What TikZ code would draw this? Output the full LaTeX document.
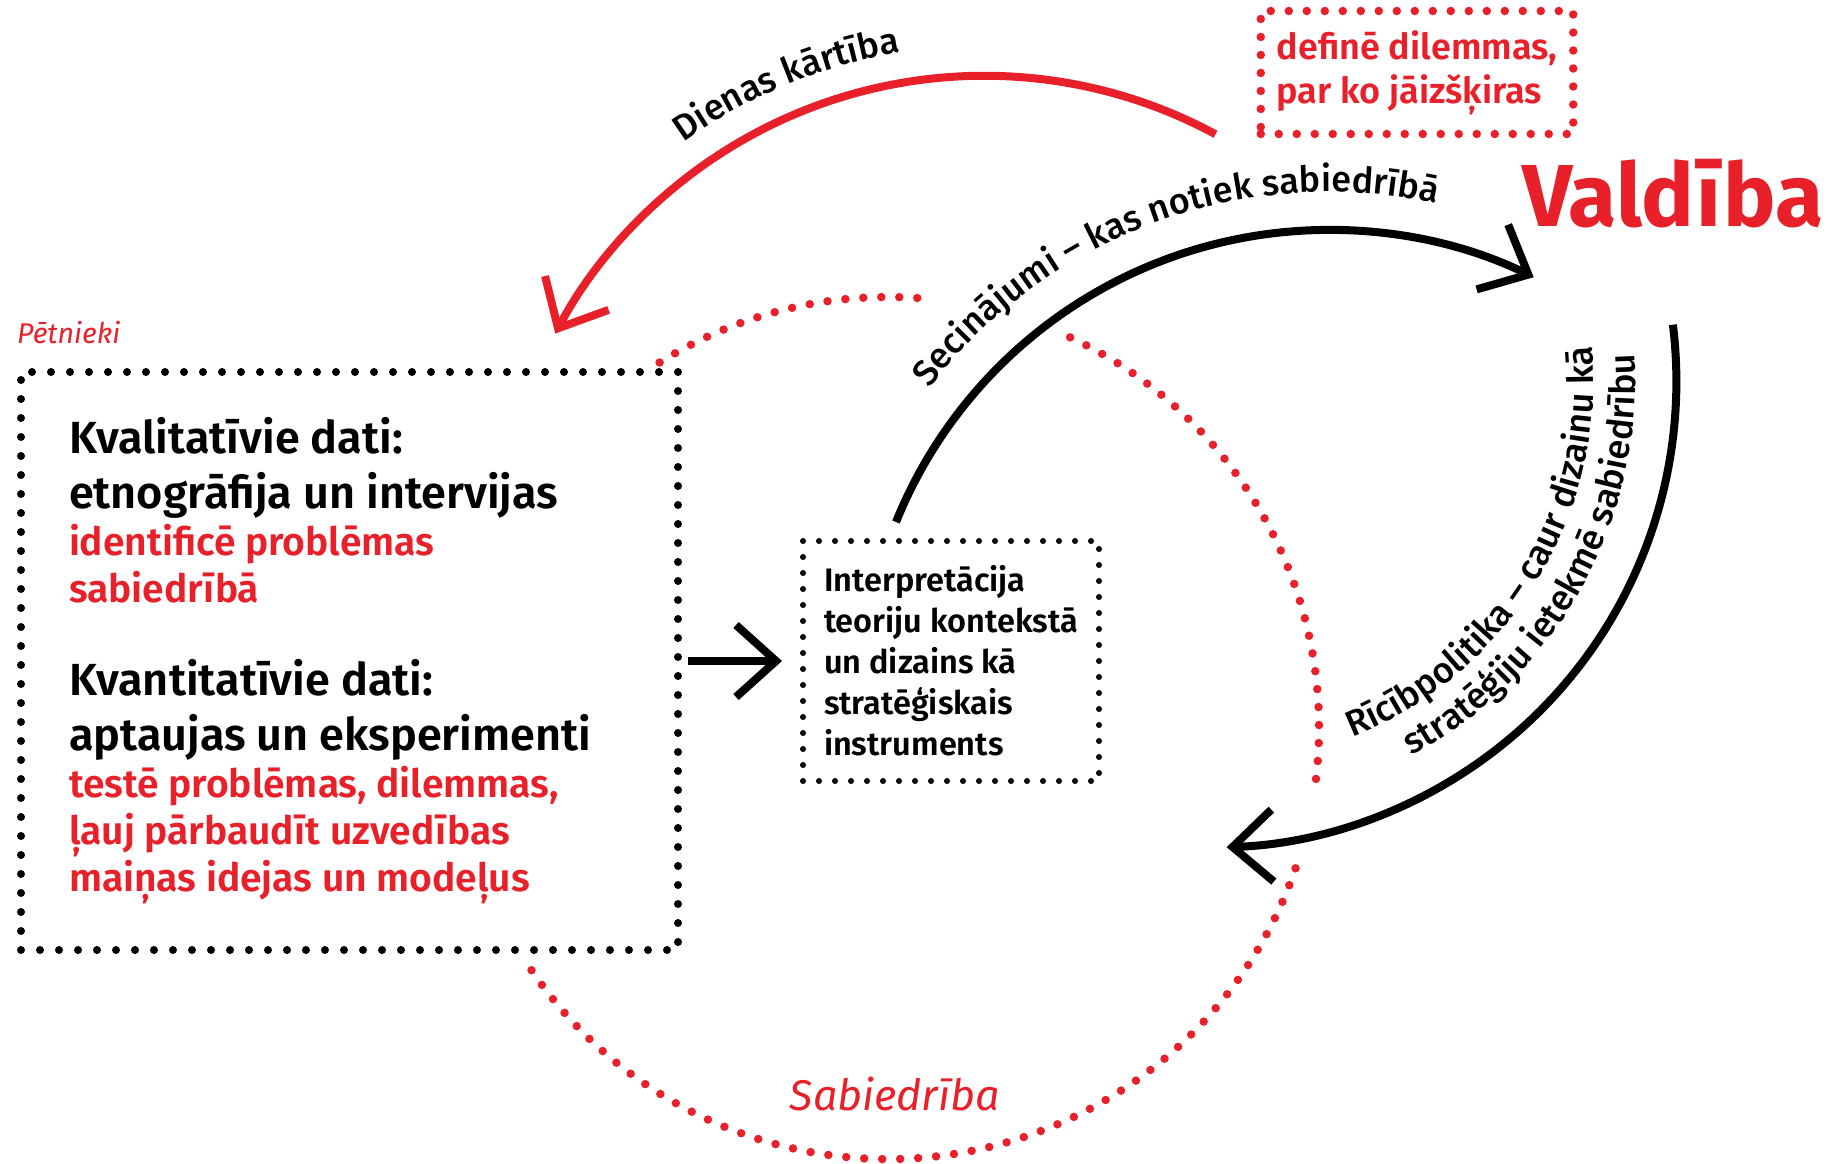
\documentclass[tikz,border=0pt]{standalone}
\usepackage{fontspec}
\setmainfont{Fira Sans}[UprightFont={* Medium}, BoldFont={* SemiBold}, ItalicFont={* Italic}]
\newfontfamily\heavyfont{Fira Sans}
\usepackage{tikz}
\usetikzlibrary{arrows.meta, positioning, calc, decorations.text}

\definecolor{valred}{HTML}{E8202A}

\newcommand{\headsize}{\fontsize{45}{55}\selectfont}
\newcommand{\notesize}{\fontsize{39}{47}\selectfont}
\newcommand{\boxsize}{\fontsize{32.5}{41}\selectfont}
\newcommand{\arcsize}{\fontsize{36}{42}\selectfont}

\begin{document}
\begin{tikzpicture}[x=1pt, y=1pt,
    dotbox/.style={draw, line width=8pt, line cap=round, dash pattern=on 0pt off 19pt},
    smalldots/.style={draw, line width=6pt, line cap=round, dash pattern=on 0pt off 16pt},
    reddots/.style={draw=valred, line width=8.5pt, line cap=round, dash pattern=on 0pt off 18pt},
    arrow/.style={-{Straight Barb[length=40pt, width=72pt]}, line width=8pt},
    arclabel/.style={decorate, decoration={text along path, text align=center, text={#1}}}
]
\useasboundingbox (0,0) rectangle (1834,1163);

% Researchers side
\node[dotbox, minimum width=657pt, minimum height=578pt, text width=561pt,
      inner xsep=48pt, inner ysep=0pt, align=flush left] (dati) at (349.5,502) {%
\spaceskip=0pt \xspaceskip=0pt
{\headsize\bfseries Kvalitatīvie dati:\\etnogrāfija un intervijas\par}
{\notesize\bfseries\color{valred}identificē problēmas\\sabiedrībā\par}
\vspace{38pt}
{\headsize\bfseries Kvantitatīvie dati:\\aptaujas un eksperimenti\par}
{\notesize\bfseries\color{valred}testē problēmas, dilemmas,\\ļauj pārbaudīt uzvedības\\maiņas idejas un modeļus\par}
};

\node[smalldots, right=118pt of dati, minimum width=296pt, minimum height=240pt,
      align=left, font=\boxsize\bfseries] (interp) {%
Interpretācija\\teoriju kontekstā\\un dizains kā\\stratēģiskais\\instruments
};

% Government side
\node[reddots, text=valred, font=\bfseries\fontsize{36}{44}\selectfont, align=left,
      minimum width=308pt, minimum height=123pt, inner xsep=16pt] (dilem) at (1417,1090.5) {%
definē dilemmas,\\par ko jāizšķiras
};

\node[text=valred, font=\heavyfont\bfseries\fontsize{88}{88}\selectfont, anchor=base west,
      inner sep=0pt] (valdiba) at (1522,936) {Valdība};

% Labels
\node[above right=24pt and 0pt of dati.north west, inner sep=0pt, text=valred,
      font=\itshape\fontsize{28.5}{28.5}\selectfont] (petnieki) {Pētnieki};

\coordinate (soc) at (888,435);
\node[anchor=base, inner sep=0pt, text=valred, font=\itshape\fontsize{43}{43}\selectfont]
      (soc-label) at ([xshift=7pt, yshift=-382pt]soc) {Sabiedrība};

% Society circle
\foreach \a/\b in {122/85.5, 65/-9, -19/-147}
  \draw[reddots] ([shift={(\a:431)}]soc) arc[start angle=\a, end angle=\b, radius=431];

% Arrows
\draw[arrow, shorten <=6pt, shorten >=18pt] (dati) -- (interp);

\coordinate (sec-from) at ([xshift=-55pt, yshift=16pt]interp.north);
\coordinate (sec-c) at ([shift={(-22:467)}]sec-from);
\draw[arrow] (sec-from) arc[start angle=158, end angle=64, radius=467];
\path[arclabel={|\arcsize|Secinājumi – kas notiek sabiedrībā}]
  ([shift={(150:505)}]sec-c) arc[start angle=150, end angle=70, radius=505];

\coordinate (pol-from) at ([yshift=-96pt]valdiba.south);
\coordinate (pol-c) at ([shift={(187:466)}]pol-from);
\draw[arrow] (pol-from) arc[start angle=7, end angle=-88, radius=466];
\path[arclabel={|\arcsize|Rīcībpolitika – caur dizainu kā}]
  ([shift={(-71.5:383)}]pol-c) arc[start angle=-71.5, end angle=8.5, radius=383];
\path[arclabel={|\arcsize|stratēģiju ietekmē sabiedrību}]
  ([shift={(-69:425)}]pol-c) arc[start angle=-69, end angle=11, radius=425];

\coordinate (agenda-from) at ([xshift=-41pt, yshift=4pt]dilem.south west);
\coordinate (agenda-c) at ([shift={(241.6:486)}]agenda-from);
\draw[arrow, draw=valred] (agenda-from) arc[start angle=61.6, end angle=152, radius=486];
\path[arclabel={|\arcsize|Dienas kārtība}]
  ([shift={(140:516)}]agenda-c) arc[start angle=140, end angle=85, radius=516];

\end{tikzpicture}
\end{document}
